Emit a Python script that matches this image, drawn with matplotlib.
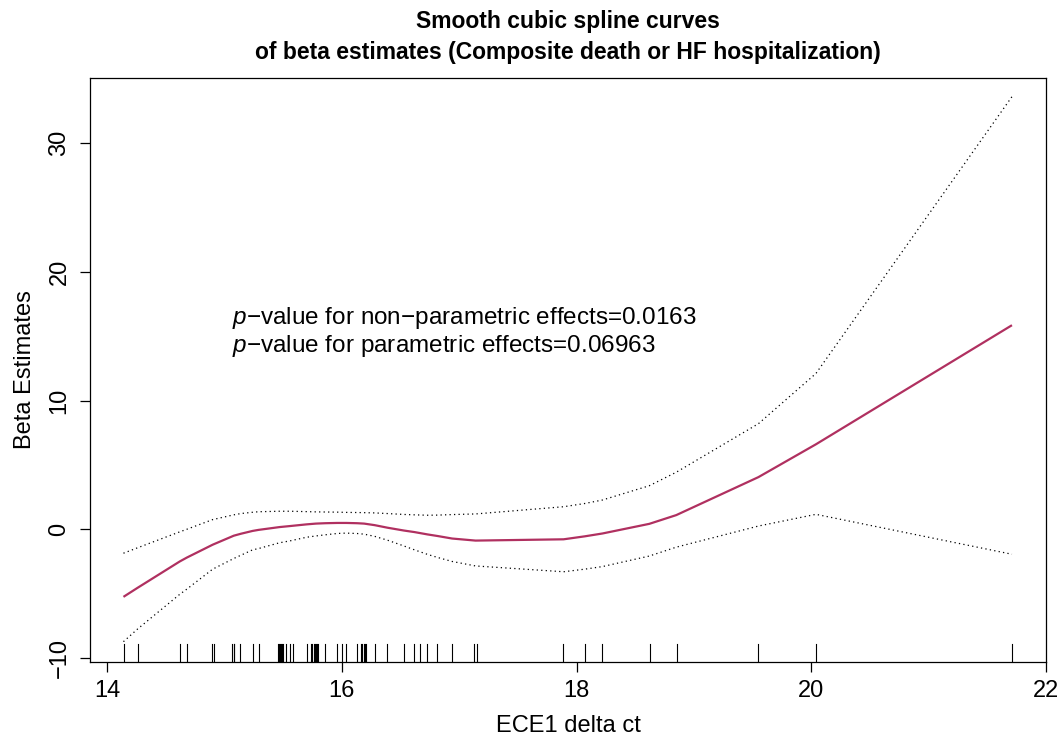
import matplotlib
matplotlib.use("Agg")
import matplotlib.pyplot as plt

plt.rcParams['font.family'] = ['Liberation Sans', 'DejaVu Sans']
plt.rcParams['mathtext.fontset'] = 'custom'
plt.rcParams['mathtext.it'] = 'Liberation Sans:italic'
plt.rcParams['mathtext.rm'] = 'Liberation Sans'

# ---- data ----
rug_x = [14.142, 14.264, 14.619, 14.681, 14.897, 14.909, 15.069, 15.078, 15.084,
         15.135, 15.241, 15.292, 15.454, 15.463, 15.471, 15.480, 15.488, 15.499,
         15.525, 15.559, 15.584, 15.704, 15.738, 15.750, 15.763, 15.772, 15.780,
         15.789, 15.800, 15.861, 15.959, 16.002, 16.040, 16.127, 16.164, 16.175,
         16.189, 16.202, 16.210, 16.283, 16.385, 16.532, 16.615, 16.666, 16.730,
         16.815, 16.939, 17.130, 17.154, 17.887, 18.072, 18.216, 18.623, 18.853,
         19.548, 20.037, 21.709]

fit_x = [14.14, 14.26, 14.62, 14.68, 14.90, 15.08, 15.14, 15.24, 15.29, 15.47,
         15.56, 15.70, 15.78, 15.86, 15.96, 16.00, 16.04, 16.13, 16.19, 16.28,
         16.39, 16.53, 16.62, 16.73, 16.82, 16.94, 17.14, 17.89, 18.07, 18.22,
         18.62, 18.85, 19.55, 20.04, 21.71]
beta_fit = [-5.25, -4.55, -2.50, -2.20, -1.20, -0.50, -0.35, -0.13, -0.05, 0.17,
            0.25, 0.38, 0.44, 0.47, 0.49, 0.49, 0.49, 0.47, 0.44, 0.32,
            0.12, -0.10, -0.22, -0.40, -0.53, -0.72, -0.88, -0.78, -0.55, -0.33,
            0.42, 1.10, 4.05, 6.60, 15.85]
beta_upper = [-1.86, -1.44, -0.20, 0.00, 0.75, 1.12, 1.22, 1.32, 1.36, 1.40,
              1.40, 1.37, 1.35, 1.34, 1.33, 1.32, 1.31, 1.30, 1.29, 1.27,
              1.22, 1.15, 1.12, 1.09, 1.10, 1.14, 1.19, 1.75, 2.00, 2.27,
              3.38, 4.43, 8.20, 12.10, 33.60]
beta_lower = [-8.73, -7.75, -5.05, -4.65, -3.10, -2.27, -2.02, -1.60, -1.50, -1.05,
              -0.90, -0.62, -0.52, -0.43, -0.33, -0.31, -0.30, -0.33, -0.38, -0.55,
              -0.85, -1.30, -1.60, -1.95, -2.20, -2.50, -2.85, -3.30, -3.10, -2.90,
              -2.08, -1.39, 0.25, 1.16, -1.94]

x_ticks = [14, 16, 18, 20, 22]
y_ticks = [-10, 0, 10, 20, 30]
title = "Smooth cubic spline curves\nof beta estimates (Composite death or HF hospitalization)"
xlabel = "ECE1 delta ct"
ylabel = "Beta Estimates"
note1 = "$p$\u2212value for non\u2212parametric effects=0.0163"
note2 = "$p$\u2212value for parametric effects=0.06963"

# ---- figure ----
fig = plt.figure(figsize=(10.64, 7.42), dpi=100)
ax = fig.add_axes([90/1064, 1-662/742, (1046-90)/1064, (662-78)/742])

ax.plot(fit_x, beta_fit, color='#B03060', lw=1.6, solid_capstyle='butt', zorder=3)
ax.plot(fit_x, beta_upper, color='black', lw=0.9, linestyle=(0, (1, 2.6)))
ax.plot(fit_x, beta_lower, color='black', lw=0.9, linestyle=(0, (1, 2.6)))

for xv in rug_x:
    ax.axvline(xv, ymin=0, ymax=0.03, color='black', lw=0.8)

ax.set_xlim(13.855, 21.998)
ax.set_ylim(-10.31, 35.05)
ax.set_xticks(x_ticks)
ax.set_yticks(y_ticks)
ax.set_yticklabels([str(v).replace('-', '\u2212') for v in y_ticks],
                   rotation=90, va='center')
ax.tick_params(direction='out', length=7, width=0.9, labelsize=17, colors='black')
ax.tick_params(axis='x', pad=6)
ax.tick_params(axis='y', pad=7)
for s in ax.spines.values():
    s.set_linewidth(0.9)

ax.set_xlabel(xlabel, fontsize=17, labelpad=9)
ax.set_ylabel(ylabel, fontsize=17, labelpad=9)
ax.set_title(title, fontsize=16.5, fontweight='bold', pad=14, linespacing=1.4)

ax.text(15.065, 16.4, note1, fontsize=17.5, va='center', ha='left')
ax.text(15.065, 14.2, note2, fontsize=17.5, va='center', ha='left')

fig.savefig("out.png", dpi=100)
